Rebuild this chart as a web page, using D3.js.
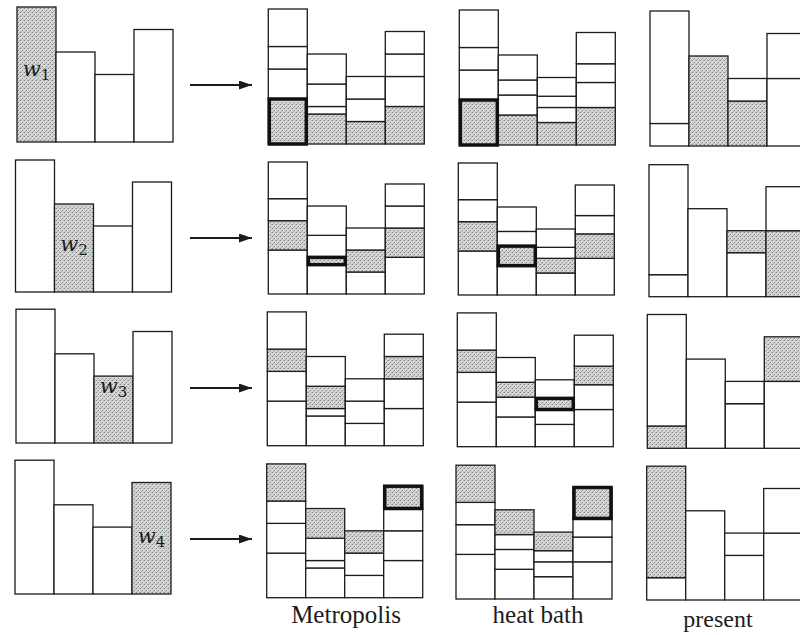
<!DOCTYPE html>
<html>
<head>
<meta charset="utf-8">
<script src="https://cdn.jsdelivr.net/npm/d3@7"></script>
<style>
  html, body { margin: 0; padding: 0; background: #fff; }
  svg { display: block; }
</style>
</head>
<body>
<svg id="chart" width="800" height="635"></svg>
<script>
// Weights of the four states
const weights = [6, 4, 3, 5];
const weightSubs = ["1", "2", "3", "4"];
const methods = ["Metropolis", "heat bath", "present"];

// flow[r][i]: weight carried from state r into the box of state i
const metropolis = [
  [2, 1.333, 1, 1.667],
  [1.333, 0.333, 1, 1.333],
  [1, 1, 0, 1],
  [1.667, 1.333, 1, 1]
];
const heatBath = [
  [2, 1.333, 1, 1.667],
  [1.333, 0.889, 0.667, 1.111],
  [1, 0.667, 0.5, 0.833],
  [1.667, 1.111, 0.833, 1.389]
];
const present = [
  [0, 4, 2, 0],
  [0, 0, 1, 3],
  [1, 0, 0, 2],
  [5, 0, 0, 0]
];
const flows = [metropolis, heatBath, present];

// ---- layout ----
const svg = d3.select("#chart");
const barW = 39;
// panel origins (left edge of first bar, baseline) per row / column
const panelLeft = [
  [17, 268.3, 459.3, 650],
  [15.5, 268.3, 458.3, 649],
  [16, 267.3, 457.3, 647.3],
  [15, 266.7, 456, 646.7]
];
const panelBase = [
  [142, 144, 145, 146],
  [292, 294, 295, 296.7],
  [443, 445.7, 446.7, 448.3],
  [594, 597.7, 599, 600]
];
const rowUnit = [22.5, 22, 22.3, 22.3];
const arrowY = [85, 238, 388, 539];
const labelBaseline = [76, 251, 393, 543];
const ink = "#1c1c1c";

// stipple fill
const defs = svg.append("defs");
const pat = defs.append("pattern")
  .attr("id", "stipple").attr("patternUnits", "userSpaceOnUse")
  .attr("width", 4).attr("height", 4);
pat.append("rect").attr("width", 4).attr("height", 4).attr("fill", "#d6d6d6");
[[0, 0], [2, 2], [3, 0], [1, 3]].forEach(([x, y], k) =>
  pat.append("rect").attr("x", x).attr("y", y).attr("width", 1).attr("height", 1)
    .attr("fill", k < 2 ? "#858585" : "#adadad"));

defs.append("marker")
  .attr("id", "head").attr("viewBox", "0 0 13 9")
  .attr("refX", 13).attr("refY", 4.5)
  .attr("markerWidth", 13).attr("markerHeight", 9)
  .attr("markerUnits", "userSpaceOnUse")
  .attr("orient", "auto")
  .append("path").attr("d", "M0,0 L13,4.5 L0,9 Z").attr("fill", ink);

const states = d3.range(weights.length);

function scales(r, c) {
  const left = panelLeft[r][c], base = panelBase[r][c];
  const x = d3.scaleBand().domain(states).range([left, left + barW * states.length]).padding(0);
  const y = d3.scaleLinear().domain([0, 6]).range([base, base - 6 * rowUnit[r]]);
  return { x, y };
}

for (let r = 0; r < 4; r++) {
  // weights column
  const { x, y } = scales(r, 0);
  const g0 = svg.append("g");
  g0.selectAll("rect").data(weights).join("rect")
    .attr("x", (d, i) => x(i)).attr("width", x.bandwidth())
    .attr("y", d => y(d)).attr("height", d => y(0) - y(d))
    .attr("fill", (d, i) => i === r ? "url(#stipple)" : "#fff")
    .attr("stroke", ink).attr("stroke-width", 1.3);
  const lbl = g0.append("text")
    .attr("x", x(r) + x.bandwidth() / 2).attr("y", labelBaseline[r])
    .attr("text-anchor", "middle")
    .attr("font-family", "DejaVu Serif, serif").attr("font-style", "italic")
    .attr("font-size", 21).attr("fill", ink);
  lbl.append("tspan").text("w");
  lbl.append("tspan").attr("font-size", 15).attr("font-style", "normal").attr("dy", 4).text(weightSubs[r]);

  // arrow
  svg.append("line")
    .attr("x1", 190).attr("x2", 252).attr("y1", arrowY[r]).attr("y2", arrowY[r])
    .attr("stroke", ink).attr("stroke-width", 2.2).attr("marker-end", "url(#head)");

  // method columns
  flows.forEach((F, m) => {
    const { x, y } = scales(r, m + 1);
    const g = svg.append("g");
    const segs = [];
    states.forEach(i => {
      let acc = 0;
      states.forEach(j => {
        const v = F[j][i];
        segs.push({ bar: i, from: j, y0: acc, y1: acc + v });
        acc += v;
      });
    });
    g.selectAll("rect.seg").data(segs.filter(s => s.y1 > s.y0)).join("rect")
      .attr("class", "seg")
      .attr("x", s => x(s.bar)).attr("width", x.bandwidth())
      .attr("y", s => y(s.y1)).attr("height", s => y(s.y0) - y(s.y1))
      .attr("fill", s => s.from === r ? "url(#stipple)" : "#fff")
      .attr("stroke", ink).attr("stroke-width", 1.3);
    // rejected weight stays in its own box: thick outline
    const self = segs.find(s => s.bar === r && s.from === r);
    if (self.y1 > self.y0) {
      g.append("rect")
        .attr("x", x(r) + 1).attr("width", x.bandwidth() - 2)
        .attr("y", y(self.y1)).attr("height", y(self.y0) - y(self.y1))
        .attr("fill", "none").attr("stroke", "#111").attr("stroke-width", 3.5);
    }
  });
}

// column titles
const titleX = [346, 538, 718];
const titleY = [623, 623, 627];
const titleSize = [25, 25, 24];
methods.forEach((t, m) => {
  svg.append("text")
    .attr("x", titleX[m]).attr("y", titleY[m])
    .attr("text-anchor", "middle")
    .attr("font-family", "Liberation Serif, serif")
    .attr("font-size", titleSize[m]).attr("fill", ink)
    .text(t);
});
</script>
</body>
</html>
